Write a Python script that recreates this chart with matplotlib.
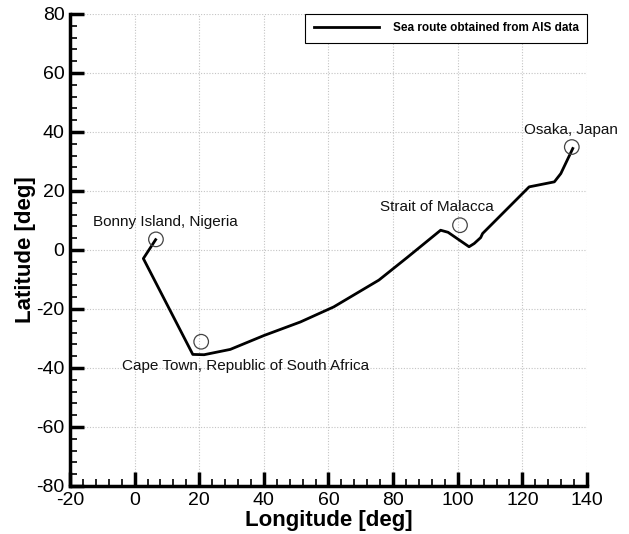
import matplotlib
matplotlib.use("Agg")
import matplotlib.pyplot as plt
from matplotlib.ticker import MultipleLocator

plt.rcParams['font.family'] = ['Liberation Sans', 'DejaVu Sans']
plt.rcParams['axes.unicode_minus'] = False

# =========================
# DATA
# =========================
route_lon = [6.5, 2.7, 18.0, 21.5, 29.6, 40.0, 51.3, 61.6, 75.6, 84.4,
             94.7, 97.0, 103.5, 105.1, 107.1, 107.7, 122.1, 129.9, 131.9, 135.6]
route_lat = [3.5, -2.9, -35.4, -35.5, -33.7, -29.0, -24.4, -19.3, -10.2, -2.5,
             6.7, 6.0, 1.1, 2.2, 4.2, 5.6, 21.4, 23.1, 25.9, 34.4]

site_lon = [6.6, 20.6, 100.7, 135.3]
site_lat = [3.6, -31.1, 8.4, 34.9]

label_text = ["Bonny Island, Nigeria", "Cape Town, Republic of South Africa",
              "Strait of Malacca", "Osaka, Japan"]
label_lon = [-12.9, -3.9, 75.9, 120.4]
label_lat = [9.5, -39.3, 14.6, 40.6]

# =========================
# PLOT
# =========================
fig = plt.figure(figsize=(6.29, 5.34), dpi=100)
ax = fig.add_axes([0.1113, 0.0899, 0.8219, 0.8839])

ax.plot(route_lon, route_lat, color='black', lw=2.0,
        label='Sea route obtained from AIS data', zorder=3)
ax.scatter(site_lon, site_lat, s=110, facecolors='none', edgecolors='#444444',
           linewidths=0.9, zorder=4)

for t, x, y in zip(label_text, label_lon, label_lat):
    ax.text(x, y, t, fontsize=11, va='center', ha='left', color='#111111')

ax.set_xlim(-20, 140)
ax.set_ylim(-80, 80)
ax.xaxis.set_major_locator(MultipleLocator(20))
ax.xaxis.set_minor_locator(MultipleLocator(4))
ax.yaxis.set_major_locator(MultipleLocator(20))
ax.yaxis.set_minor_locator(MultipleLocator(4))

ax.tick_params(which='major', direction='in', length=10, width=2.5, labelsize=14, pad=4)
ax.tick_params(which='minor', direction='in', length=5, width=1.2)

for s in ['top', 'right']:
    ax.spines[s].set_visible(False)
for s in ['left', 'bottom']:
    ax.spines[s].set_linewidth(2.5)

ax.grid(True, which='major', linestyle=(0, (1, 1.5)), color='#c4c4c4', lw=0.8)
ax.set_axisbelow(True)

ax.set_xlabel('Longitude [deg]', fontsize=16, fontweight='bold', labelpad=1)
ax.set_ylabel('Latitude [deg]', fontsize=16, fontweight='bold')
ax.yaxis.set_label_coords(-0.066, 0.5)

leg = ax.legend(loc='upper right', bbox_to_anchor=(1.0, 1.0),
                prop={'weight': 'bold', 'size': 8.5}, fancybox=False,
                edgecolor='black', framealpha=1, borderaxespad=0,
                handlelength=5.5, borderpad=0.7, handletextpad=1.2)
leg.get_frame().set_linewidth(0.8)

fig.savefig('out.png', dpi=100)
